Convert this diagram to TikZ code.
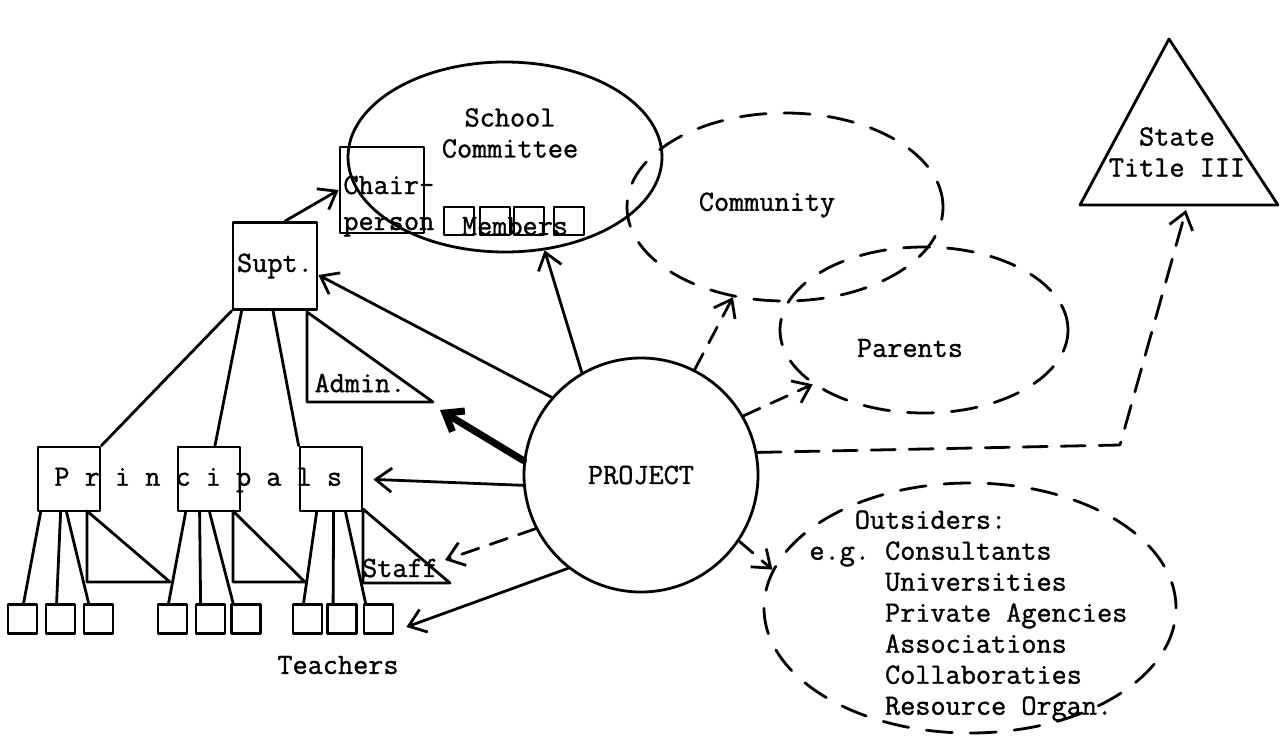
\documentclass[tikz,border=0pt]{standalone}
\usepackage{fontspec}
\setmonofont[FakeBold=1.2]{Latin Modern Mono}
\usetikzlibrary{shapes.geometric,arrows.meta}
\begin{document}
\begin{tikzpicture}[x=.5pt, y=-.5pt, font=\ttfamily\fontsize{14.7}{15.5}\selectfont, line join=round, line cap=round, line width=1.4pt, >={Straight Barb[length=8pt,width=12pt]},
	bigbox/.style={draw, inner sep=0pt, minimum width=42pt, minimum height=43.5pt},
	prbox/.style={draw, inner sep=0pt, minimum width=31pt, minimum height=32pt},
	mbox/.style={draw, inner sep=0pt, minimum width=15pt, minimum height=14pt},
	tbox/.style={draw, inner sep=0pt, minimum size=14.5pt},
	dashring/.style={draw, ellipse, inner sep=0pt, dash pattern=on 13pt off 9pt},
	dashline/.style={dash pattern=on 9pt off 6pt}]
		\useasboundingbox (0,0) rectangle (1280,739);
		% school committee
		\node[draw, ellipse, inner sep=0pt, minimum width=157pt, minimum height=95pt] (sc) at (505,157) {};
		\node[align=center] (sclbl) at (510,133) {School\\Committee};
		\node[bigbox, minimum height=43pt] (chair) at (382,190) {};
		\node[anchor=base west, inner sep=0pt] (chairlbl) at (342,194) {Chair-};
		\node[anchor=base west, inner sep=0pt] (personlbl) at (342,230) {person};
		\foreach \i/\x in {1/459,2/495,3/529,4/569} \node[mbox] (m\i) at (\x,221) {};
		\node (memlbl) at (515,226) {Members};
		% school system
		\node[bigbox] (supt) at (275,266) {Supt.};
		\foreach \i/\x in {1/69,2/209,3/331} \node[prbox] (pr\i) at (\x,479) {};
		\node[anchor=west, inner sep=0pt] (prlbl) at (53,480) {P r i n c i p a l s};
		\foreach \i/\x in {1/22.5,2/60.5,3/98.5,4/172.5,5/210.5,6/246,7/307.5,8/342,9/378.5} \node[tbox] (t\i) at (\x,619) {};
		\node (tlbl) at (338,665) {Teachers};
		\draw (supt.south west) -- (pr1.north east);
		\draw ([xshift=5pt]supt.south west) -- ([xshift=3pt]pr2.north);
		\draw ([xshift=-1pt]supt.south) -- (pr3.north west);
		\foreach \p/\a/\t/\b in {1/4/1/17,1/24/2/12,1/30/3/6,2/9/4/12,2/23/5/6,2/33/6/3,3/18/7/12,3/35/8/7,3/47/9/3}
			\draw ([xshift=\a*0.5pt]pr\p.south west) -- ([xshift=\b*0.5pt]t\t.north west);
		\draw (307,312) -- (307,402) -- (433,402) -- cycle;
		\node (admlbl) at (360,383) {Admin.};
		\coordinate (admtip) at (440,410);
		\draw (87,511) -- (87,582) -- (170,582) -- cycle;
		\draw (233,511) -- (233,582) -- (305,582) -- cycle;
		\draw (363,509) -- (363,583) -- (450,583) -- cycle;
		\node (stafflbl) at (400,568) {Staff};
		\coordinate (stafftip) at (445,560);
		% outside groups
		\node[dashring, minimum width=158pt, minimum height=94pt] (comm) at (785,207) {};
		\node (commlbl) at (767,205) {Community};
		\node[dashring, minimum width=144pt, minimum height=83pt] (par) at (924,330) {};
		\node (parlbl) at (910,348) {Parents};
		\node[dashring, minimum width=206pt, minimum height=125pt] (outs) at (970,608) {};
		\node[anchor=north west, inner sep=0pt, align=left] (outslbl) at (808,509) {\phantom{e.g}Outsiders:\\e.g. Consultants\\\phantom{e.g.x}Universities\\\phantom{e.g.x}Private Agencies\\\phantom{e.g.x}Associations\\\phantom{e.g.x}Collaboraties\\\phantom{e.g.x}Resource Organ.};
		\draw (1169,39) -- (1080,205) -- (1278,205) -- cycle;
		\node[align=center] (stlbl) at (1177,152) {State\\Title III};
		\coordinate (sttip) at (1186,210);
		\coordinate (stbend) at (1120,445);
		% project and its links
		\node[draw, circle, inner sep=0pt, minimum size=117pt] (proj) at (641,475) {PROJECT};
		\draw[->] ([xshift=5pt]supt.north) -- (chair.west);
		\draw[->] (proj.139) -- ([yshift=-4.5pt]supt.east);
		\draw[->] (proj.120) -- (sc.-67);
		\draw[->, line width=3.5pt] (proj.173) -- (admtip);
		\draw[->, shorten >=5pt] (proj.185) -- (pr3.east);
		\draw[->, dashline] (proj.207) -- (stafftip);
		\draw[->] (proj.232) -- ([xshift=6pt,yshift=-4pt]t9.east);
		\draw[->, dashline] (proj.326) -- (outs.169);
		\draw[->, dashline] (proj.63) -- (comm.-120);
		\draw[->, dashline] (proj.30) -- (par.206);
		\draw[->, dash pattern=on 12pt off 7pt] (proj.11) -- (stbend) -- (sttip);
	\end{tikzpicture}
\end{document}
